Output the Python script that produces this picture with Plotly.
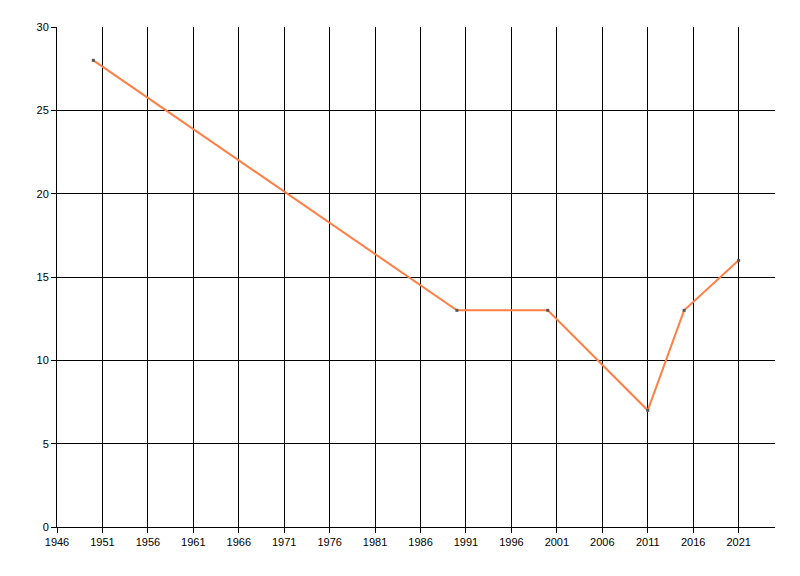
import plotly.graph_objects as go

years = [1950, 1990, 2000, 2011, 2015, 2021]
values = [28, 13, 13, 7, 13, 16]
x_ticks = list(range(1946, 2022, 5))
y_ticks = [0, 5, 10, 15, 20, 25, 30]

fig = go.Figure()
fig.add_trace(go.Scatter(
    x=years, y=values, mode="lines+markers",
    line=dict(color="#FF7F45", width=2),
    marker=dict(size=3, color="#555555", symbol="square"),
    showlegend=False,
))

fig.update_layout(
    width=800, height=576,
    margin=dict(l=49, r=33, t=19, b=57),
    paper_bgcolor="white", plot_bgcolor="white",
    font=dict(family="Liberation Sans, Arial", size=11, color="black"),
    xaxis=dict(
        range=[1946, 2025], tickvals=x_ticks, ticktext=[str(v) for v in x_ticks],
        showgrid=True, gridcolor="black", gridwidth=1,
        showline=True, linecolor="black", linewidth=1,
        ticks="outside", ticklen=5, tickcolor="black",
        zeroline=False, fixedrange=True, automargin=False,
    ),
    yaxis=dict(
        range=[0, 30], tickvals=y_ticks,
        showgrid=True, gridcolor="black", gridwidth=1,
        showline=True, linecolor="black", linewidth=1,
        ticks="outside", ticklen=5, tickcolor="black",
        zeroline=False, fixedrange=True, automargin=False,
    ),
)

fig.write_html("out.html")
